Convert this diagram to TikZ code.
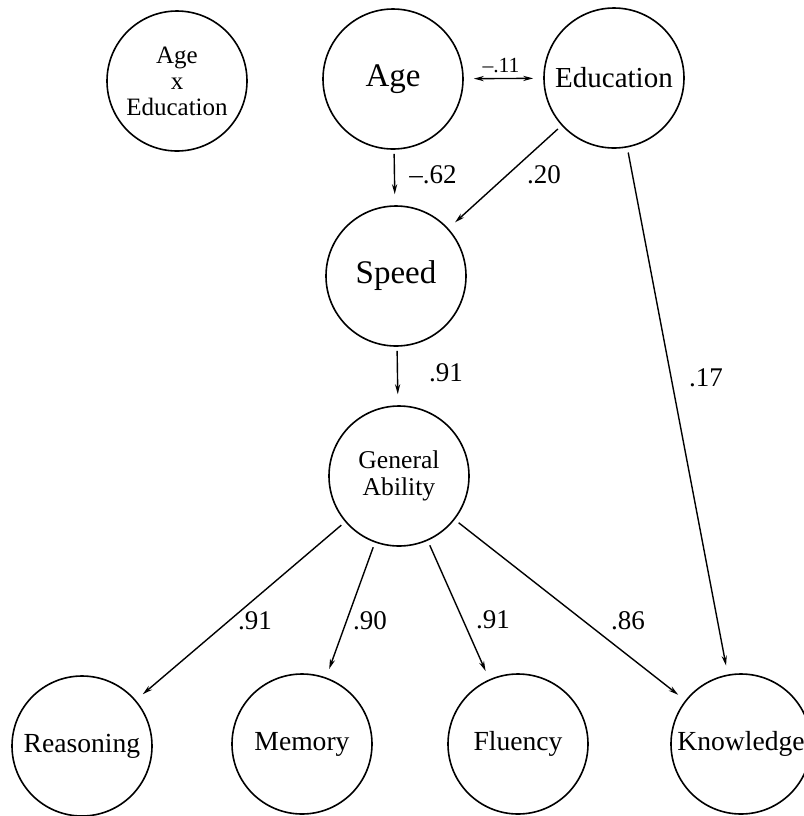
\documentclass[tikz,border=0pt]{standalone}
\usepackage{fontspec}
\setmainfont{Liberation Serif}
\usetikzlibrary{arrows.meta}
\newcommand{\fsize}[2]{\fontsize{#1}{#2}\selectfont}

\begin{document}
\begin{tikzpicture}[x=0.5pt,y=-0.5pt]
\useasboundingbox (0,0) rectangle (804,816);
\tikzset{VarStyle/.style ={shape=circle, draw, line width=0.8pt, minimum size=70pt, inner sep=0, align=center, font=\fsize{13.8}{15}}}
\tikzset{PathStyle/.style ={-{Stealth[length=5pt,width=2.6pt]}, line width=0.7pt, shorten <=2.5pt, shorten >=4.5pt}}
\tikzset{CoefStyle/.style ={inner sep=0, font=\fsize{13.5}{15}}}
\node[VarStyle, font=\fsize{12.5}{13}] (AgeEdu) at (177,81) {Age\\x\\Education};
\node[VarStyle, font=\fsize{16.5}{18}] (Age) at (393,79) {Age};
\node[VarStyle, font=\fsize{14.5}{16}] (Edu) at (614,78) {Education};
\node[VarStyle, font=\fsize{16.5}{18}] (Speed) at (396,276) {Speed};
\node[VarStyle, font=\fsize{12.8}{13.6}] (GenAb) at (399,476) {General\\Ability};
\node[VarStyle] (Reas) at (82,746) {Reasoning};
\node[VarStyle] (Mem) at (302,744) {Memory};
\node[VarStyle] (Flu) at (518,744) {Fluency};
\node[VarStyle] (Know) at (741,744) {Knowledge};
\draw[line width=0.7pt, {Stealth[length=5pt,width=2.6pt]}-{Stealth[length=5pt,width=2.6pt]}, shorten <=5pt, shorten >=5pt] (Age) -- (Edu);
\draw[PathStyle, shorten <=2pt, shorten >=5.5pt] (Age) -- (Speed);
\draw[PathStyle] (Edu) -- (Speed);
\draw[PathStyle] (Edu) -- (Know);
\draw[PathStyle, shorten <=2pt, shorten >=5.5pt] (Speed) -- (GenAb);
\draw[PathStyle] (GenAb) -- (Reas);
\draw[PathStyle] (GenAb) -- (Mem);
\draw[PathStyle] (GenAb) -- (Flu);
\draw[PathStyle] (GenAb) -- (Know);
\node[CoefStyle, font=\fsize{10.8}{12}] (cAgeEdu) at (501,66) {--.11};
\node[CoefStyle] (cAgeSp) at (433,175) {--.62};
\node[CoefStyle] (cEduSp) at (544,175) {.20};
\node[CoefStyle] (cEduKn) at (706,378) {.17};
\node[CoefStyle] (cSpGa) at (446,373) {.91};
\node[CoefStyle] (cGaRe) at (255,621) {.91};
\node[CoefStyle] (cGaMe) at (370,621) {.90};
\node[CoefStyle] (cGaFl) at (493,620) {.91};
\node[CoefStyle] (cGaKn) at (628,621) {.86};
\end{tikzpicture}
\end{document}
